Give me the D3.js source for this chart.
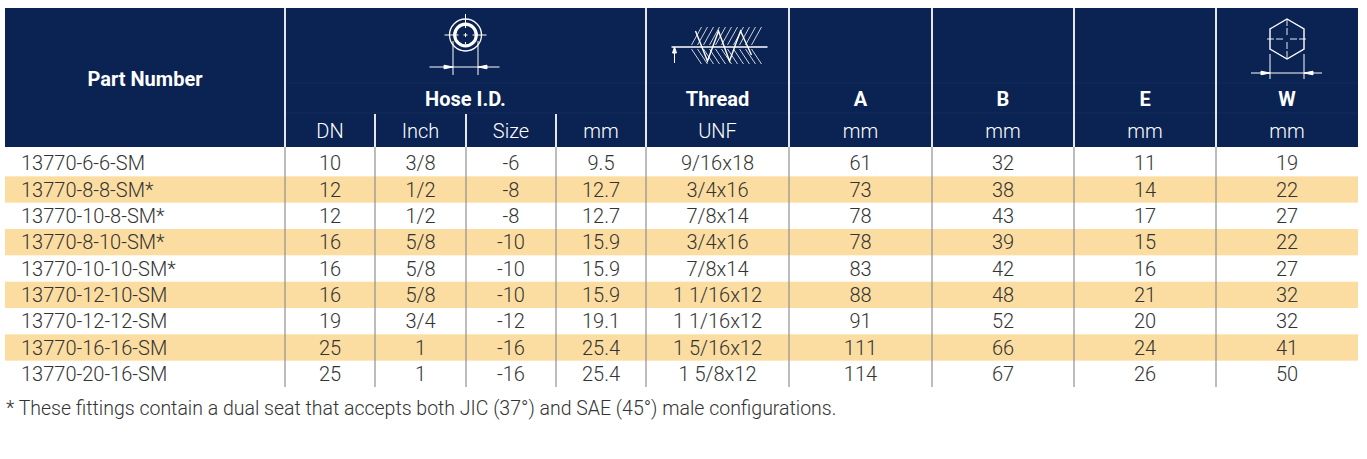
<!DOCTYPE html>
<html>
<head>
<meta charset="utf-8">
<script src="https://cdn.jsdelivr.net/npm/d3@7"></script>
<style>
  body { margin: 0; background: #fff; }
  svg { display: block; }
</style>
</head>
<body>
<div id="chart"></div>
<script>
// table values
const partNumbers = ['13770-6-6-SM', '13770-8-8-SM*', '13770-10-8-SM*', '13770-8-10-SM*', '13770-10-10-SM*',
  '13770-12-10-SM', '13770-12-12-SM', '13770-16-16-SM', '13770-20-16-SM']
const dnValues = [10, 12, 12, 16, 16, 16, 19, 25, 25]
const inchValues = ['3/8', '1/2', '1/2', '5/8', '5/8', '5/8', '3/4', '1', '1']
const sizeValues = [-6, -8, -8, -10, -10, -10, -12, -16, -16]
const hoseMmValues = [9.5, 12.7, 12.7, 15.9, 15.9, 15.9, 19.1, 25.4, 25.4]
const threadValues = ['9/16x18', '3/4x16', '7/8x14', '3/4x16', '7/8x14', '1 1/16x12', '1 1/16x12', '1 5/16x12', '1 5/8x12']
const aValues = [61, 73, 78, 78, 83, 88, 91, 111, 114]
const bValues = [32, 38, 43, 39, 42, 48, 52, 66, 67]
const eValues = [11, 14, 17, 15, 16, 21, 20, 24, 26]
const wValues = [19, 22, 27, 22, 27, 32, 32, 41, 50]

const columnKeys = ['part', 'dn', 'inch', 'size', 'mm', 'thread', 'a', 'b', 'e', 'w']
const topLabels = ['Part Number', 'Hose I.D.', 'Thread', 'A', 'B', 'E', 'W']
const unitLabels = ['', 'DN', 'Inch', 'Size', 'mm', 'UNF', 'mm', 'mm', 'mm', 'mm']
const footnote = '* These fittings contain a dual seat that accepts both JIC (37°) and SAE (45°) male configurations.'

const columns = [partNumbers, dnValues, inchValues, sizeValues, hoseMmValues.map(d => d.toFixed(1)),
  threadValues, aValues, bValues, eValues, wValues]

const width = 1367
const height = 459
const left = 5
const colWidths = [280, 90, 91, 90, 90, 143, 143, 142, 142, 142]
const edges = [left, ...d3.cumsum(colWidths).map(d => d + left)]
const right = edges[edges.length - 1]

const headTop = 8
const headBottom = 147
const bodyBottom = 387

const navy = '#0b2353'
const peach = '#fcdda1'
const textColor = '#333'
const font = 'Roboto, "Liberation Sans", Arial, sans-serif'
const fontSize = 20

const x = d3.scaleOrdinal().domain(columnKeys).range(edges.slice(0, -1))
const colW = d3.scaleOrdinal().domain(columnKeys).range(colWidths)
const cx = k => x(k) + colW(k) / 2
const y = d3.scaleBand().domain(d3.range(partNumbers.length)).range([150, bodyBottom])

const svg = d3.select('#chart').append('svg')
  .attr('width', width)
  .attr('height', height)
  .attr('viewBox', `0 0 ${width} ${height}`)
  .style('font-family', font)

// striped rows
svg.append('g').selectAll('rect')
  .data(d3.range(partNumbers.length).filter(i => i % 2 === 1))
  .join('rect')
  .attr('x', left)
  .attr('y', i => y(i))
  .attr('width', right - left)
  .attr('height', y.bandwidth())
  .attr('fill', peach)

// body grid lines
svg.append('g').selectAll('line')
  .data(columnKeys.slice(1))
  .join('line')
  .attr('x1', k => x(k)).attr('x2', k => x(k))
  .attr('y1', headBottom).attr('y2', bodyBottom)
  .attr('stroke', '#8f8f8f')
  .attr('stroke-width', 1.2)

// header block
svg.append('rect')
  .attr('x', left).attr('y', headTop)
  .attr('width', right - left).attr('height', headBottom - headTop)
  .attr('fill', navy)

// faint header rules
svg.append('g').selectAll('line')
  .data([83, 113])
  .join('line')
  .attr('x1', x('dn')).attr('x2', right)
  .attr('y1', d => d).attr('y2', d => d)
  .attr('stroke', '#132c5b')
  .attr('stroke-width', 1)

const mainSplits = ['dn', 'thread', 'a', 'b', 'e', 'w']
svg.append('g').selectAll('line')
  .data(columnKeys.slice(1))
  .join('line')
  .attr('x1', k => x(k)).attr('x2', k => x(k))
  .attr('y1', k => mainSplits.includes(k) ? headTop : 114)
  .attr('y2', headBottom)
  .attr('stroke', '#e4e6ec')
  .attr('stroke-width', 2)

// header labels
const hoseCenter = (x('dn') + x('thread')) / 2
const topX = [cx('part'), hoseCenter, cx('thread'), cx('a'), cx('b'), cx('e'), cx('w')]
svg.append('g').selectAll('text')
  .data(topLabels)
  .join('text')
  .attr('x', (d, i) => topX[i])
  .attr('y', (d, i) => i === 0 ? 79 : 99)
  .attr('dy', '0.36em')
  .attr('text-anchor', 'middle')
  .attr('fill', '#fff')
  .attr('font-size', fontSize)
  .attr('font-weight', 700)
  .text(d => d)

svg.append('g').selectAll('text')
  .data(columnKeys)
  .join('text')
  .attr('x', k => cx(k))
  .attr('y', 131)
  .attr('dy', '0.36em')
  .attr('text-anchor', 'middle')
  .attr('fill', '#fff')
  .attr('font-size', fontSize)
  .attr('font-weight', 300)
  .text((k, i) => unitLabels[i])

// body cells
columnKeys.forEach((k, ci) => {
  svg.append('g').selectAll('text')
    .data(columns[ci])
    .join('text')
    .attr('x', k === 'part' ? x(k) + 16 : cx(k))
    .attr('y', (d, i) => y(i) + y.bandwidth() / 2)
    .attr('dy', '0.36em')
    .attr('text-anchor', k === 'part' ? 'start' : 'middle')
    .attr('fill', textColor)
    .attr('font-size', fontSize)
    .attr('font-weight', 300)
    .text(d => d)
})

svg.append('text')
  .attr('x', 6)
  .attr('y', 408)
  .attr('dy', '0.36em')
  .attr('fill', textColor)
  .attr('font-size', 19.5)
  .attr('font-weight', 300)
  .text(footnote)

// icons
const white = '#fff'
const arrowHead = (g, tipX, tipY, dir) => {
  g.append('path')
    .attr('d', `M${tipX},${tipY} L${tipX - dir * 9},${tipY - 1.8} L${tipX - dir * 9},${tipY + 1.8} Z`)
    .attr('fill', white)
}

// hose bore symbol
const hose = svg.append('g')
  .attr('transform', `translate(${hoseCenter},35)`)
  .attr('stroke', white).attr('fill', 'none')
hose.append('circle').attr('r', 16).attr('stroke-width', 1.3)
hose.append('circle').attr('r', 10.8).attr('stroke-width', 3.2)
hose.append('path').attr('d', 'M-21,0H-7M7,0H21M0,-21V-7M0,7V9M-2,0H2M0,-2V2').attr('stroke-width', 1)
hose.append('path').attr('d', 'M-12.5,6V40M12.5,6V40M-36,32H34').attr('stroke-width', 1)
arrowHead(hose, -12.5, 32, 1)
arrowHead(hose, 12.5, 32, -1)

// thread profile symbol
const thr = svg.append('g')
  .attr('transform', `translate(${cx('thread')},47)`)
  .attr('stroke', white).attr('fill', 'none')
thr.append('path').attr('d', 'M-46,0H50').attr('stroke-width', 1.6)
thr.append('path').attr('d', 'M-43,1V16').attr('stroke-width', 1)
thr.append('path').attr('d', 'M-43,0L-45,6H-41Z').attr('fill', white)
thr.append('path')
  .attr('d', 'M-22,-16L-10,14L1,-16L12,14L23,-16L34,8')
  .attr('stroke-width', 1.4)
const upper = d3.range(-26, 40, 6)
thr.append('g').selectAll('path').data(upper).join('path')
  .attr('d', d => `M${d},-2L${d + 10},-20`).attr('stroke-width', 0.8)
thr.append('g').selectAll('path').data(upper).join('path')
  .attr('d', d => `M${d},2L${d + 10},17`).attr('stroke-width', 0.8)

// hex across-flats symbol
const hex = svg.append('g')
  .attr('transform', `translate(${cx('w')},39)`)
  .attr('stroke', white).attr('fill', 'none')
hex.append('path').attr('d', 'M0,-20L17,-10L17,10L0,20L-17,10L-17,-10Z').attr('stroke-width', 1.4)
hex.append('path').attr('d', 'M-20,0H-3M3,0H19M0,-20V-3M0,3V20').attr('stroke-width', 0.9).attr('stroke-dasharray', '7 2')
hex.append('path').attr('d', 'M-17,15V40M17,15V40M-36,34H35').attr('stroke-width', 1)
arrowHead(hex, -17, 34, 1)
arrowHead(hex, 17, 34, -1)
</script>
</body>
</html>
